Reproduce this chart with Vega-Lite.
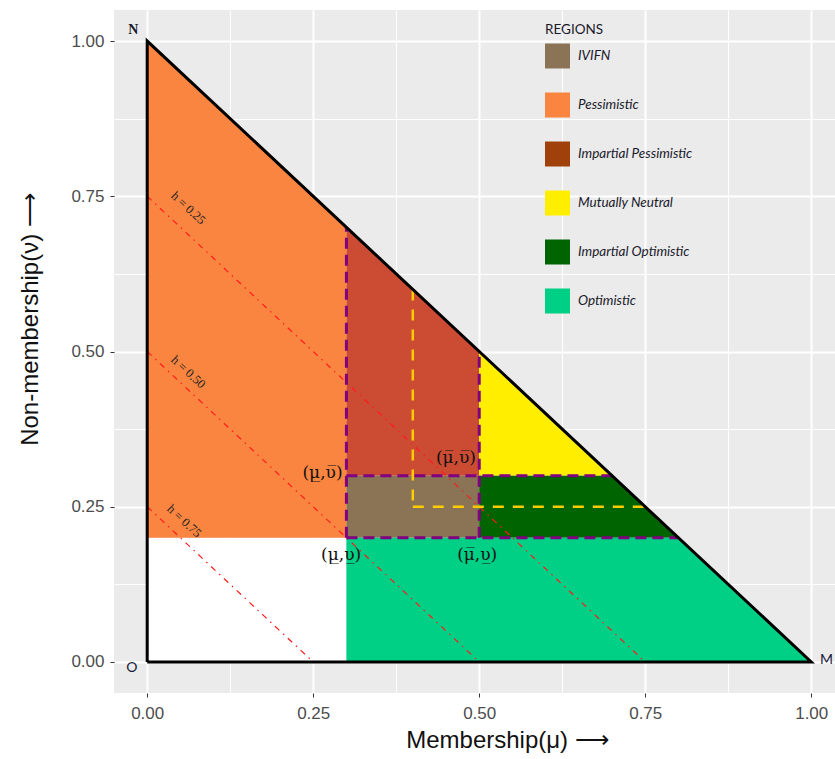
{
  "$schema": "https://vega.github.io/schema/vega-lite/v6.json",
  "autosize": "none",
  "padding": {"left": 114, "top": 10, "right": 0, "bottom": 66},
  "width": 721,
  "height": 683,
  "background": "white",
  "config": {
    "view": {"fill": "#EBEBEB", "stroke": null},
    "axis": {
      "domain": false,
      "gridColor": "white",
      "gridWidth": {"condition": {"test": "(datum.value*4) % 1 == 0", "value": 2}, "value": 1},
      "tickOpacity": {"condition": {"test": "(datum.value*4) % 1 == 0", "value": 1}, "value": 0},
      "tickColor": "#333333",
      "tickSize": 4,
      "labelFont": "Liberation Sans",
      "labelFontSize": 17,
      "labelColor": "#4D4D4D",
      "titleFont": "Liberation Sans",
      "titleFontSize": 24,
      "titleFontWeight": "normal",
      "titleColor": "#111111"
    }
  },
  "datasets": {
    "regions": [
      {"region": "Blank", "x": 0, "top": 0.2, "bot": 0},
      {"region": "Blank", "x": 0.3, "top": 0.2, "bot": 0},
      {"region": "Pessimistic", "x": 0, "top": 1, "bot": 0.2},
      {"region": "Pessimistic", "x": 0.3, "top": 0.7, "bot": 0.2},
      {"region": "Impartial Pessimistic", "x": 0.3, "top": 0.7, "bot": 0.3},
      {"region": "Impartial Pessimistic", "x": 0.5, "top": 0.5, "bot": 0.3},
      {"region": "IVIFN", "x": 0.3, "top": 0.3, "bot": 0.2},
      {"region": "IVIFN", "x": 0.5, "top": 0.3, "bot": 0.2},
      {"region": "Mutually Neutral", "x": 0.5, "top": 0.5, "bot": 0.3},
      {"region": "Mutually Neutral", "x": 0.7, "top": 0.3, "bot": 0.3},
      {"region": "Impartial Optimistic", "x": 0.5, "top": 0.3, "bot": 0.2},
      {"region": "Impartial Optimistic", "x": 0.7, "top": 0.3, "bot": 0.2},
      {"region": "Impartial Optimistic", "x": 0.8, "top": 0.2, "bot": 0.2},
      {"region": "Optimistic", "x": 0.3, "top": 0.2, "bot": 0},
      {"region": "Optimistic", "x": 0.8, "top": 0.2, "bot": 0},
      {"region": "Optimistic", "x": 1, "top": 0, "bot": 0}
    ],
    "red": [
      {"x": 0, "y": 0.75, "x2": 0.75, "y2": 0},
      {"x": 0, "y": 0.5, "x2": 0.5, "y2": 0},
      {"x": 0, "y": 0.25, "x2": 0.25, "y2": 0}
    ],
    "purple": [
      {"x": 0.3, "y": 0.2, "x2": 0.3, "y2": 0.7},
      {"x": 0.5, "y": 0.2, "x2": 0.5, "y2": 0.5},
      {"x": 0.3, "y": 0.3, "x2": 0.7, "y2": 0.3},
      {"x": 0.3, "y": 0.2, "x2": 0.8, "y2": 0.2}
    ],
    "yellow": [
      {"x": 0.4, "y": 0.6, "x2": 0.4, "y2": 0.25},
      {"x": 0.4, "y": 0.25, "x2": 0.75, "y2": 0.25}
    ],
    "outline": [
      {"o": 1, "x": 0, "y": 0},
      {"o": 2, "x": 0, "y": 1},
      {"o": 3, "x": 1, "y": 0},
      {"o": 4, "x": 0, "y": 0}
    ],
    "hlabels": [
      {"label": "h = 0.25", "x": 0.062, "y": 0.731},
      {"label": "h = 0.50", "x": 0.062, "y": 0.467},
      {"label": "h = 0.75", "x": 0.056, "y": 0.227}
    ],
    "mulabels": [
      {"label": "(μ\u0332,υ\u0305)", "x": 0.264, "y": 0.304},
      {"label": "(μ\u0305,υ\u0305)", "x": 0.465, "y": 0.328},
      {"label": "(μ\u0332,υ\u0332)", "x": 0.292, "y": 0.172},
      {"label": "(μ\u0305,υ\u0332)", "x": 0.497, "y": 0.172}
    ],
    "legend": [
      {"region": "IVIFN", "x": 0, "y": 0},
      {"region": "Pessimistic", "x": 0, "y": 0},
      {"region": "Impartial Pessimistic", "x": 0, "y": 0},
      {"region": "Mutually Neutral", "x": 0, "y": 0},
      {"region": "Impartial Optimistic", "x": 0, "y": 0},
      {"region": "Optimistic", "x": 0, "y": 0}
    ]
  },
  "encoding": {
    "x": {
      "type": "quantitative",
      "scale": {"domain": [-0.05, 1.0358], "nice": false, "zero": false},
      "axis": {
        "values": [0, 0.125, 0.25, 0.375, 0.5, 0.625, 0.75, 0.875, 1],
        "format": ".2f",
        "labelExpr": "(datum.value*4) % 1 == 0 ? datum.label : ''",
        "labelPadding": 8,
        "title": "Membership(μ) ⟶",
        "titleX": 393,
        "titleY": 47,
        "titleBaseline": "middle"
      }
    },
    "y": {
      "type": "quantitative",
      "scale": {"domain": [-0.05, 1.05], "nice": false, "zero": false},
      "axis": {
        "values": [0, 0.125, 0.25, 0.375, 0.5, 0.625, 0.75, 0.875, 1],
        "format": ".2f",
        "labelExpr": "(datum.value*4) % 1 == 0 ? datum.label : ''",
        "labelPadding": 6,
        "title": "Non-membership(ν) ⟶",
        "titleX": -84,
        "titleY": 309,
        "titleBaseline": "middle",
        "titleAlign": "center"
      }
    }
  },
  "layer": [
    {
      "data": {"name": "regions"},
      "mark": {"type": "area", "opacity": 1},
      "encoding": {
        "x": {"field": "x", "type": "quantitative"},
        "y": {"field": "top", "type": "quantitative", "stack": null},
        "y2": {"field": "bot"},
        "fill": {
          "field": "region",
          "type": "nominal",
          "legend": null,
          "scale": {
            "domain": ["Blank", "IVIFN", "Pessimistic", "Impartial Pessimistic", "Mutually Neutral", "Impartial Optimistic", "Optimistic"],
            "range": ["#FFFFFF", "#8B7355", "#FA8540", "#CC4B33", "#FFEE00", "#006400", "#00CF86"]
          }
        }
      }
    },
    {
      "data": {"name": "red"},
      "mark": {"type": "rule", "color": "#FF1A1A", "strokeWidth": 1.2, "strokeDash": [6, 5, 1.5, 5]},
      "encoding": {
        "x": {"field": "x", "type": "quantitative"},
        "y": {"field": "y", "type": "quantitative"},
        "x2": {"field": "x2"},
        "y2": {"field": "y2"}
      }
    },
    {
      "data": {"name": "yellow"},
      "mark": {"type": "rule", "color": "#FFCC00", "strokeWidth": 2.5, "strokeDash": [11, 9]},
      "encoding": {
        "x": {"field": "x", "type": "quantitative"},
        "y": {"field": "y", "type": "quantitative"},
        "x2": {"field": "x2"},
        "y2": {"field": "y2"}
      }
    },
    {
      "data": {"name": "purple"},
      "mark": {"type": "rule", "color": "#800080", "strokeWidth": 3, "strokeDash": [11, 6]},
      "encoding": {
        "x": {"field": "x", "type": "quantitative"},
        "y": {"field": "y", "type": "quantitative"},
        "x2": {"field": "x2"},
        "y2": {"field": "y2"}
      }
    },
    {
      "data": {"name": "outline"},
      "mark": {"type": "line", "color": "black", "strokeWidth": 3, "strokeJoin": "miter"},
      "encoding": {
        "x": {"field": "x", "type": "quantitative"},
        "y": {"field": "y", "type": "quantitative"},
        "order": {"field": "o", "type": "quantitative"}
      }
    },
    {
      "data": {"name": "hlabels"},
      "mark": {"type": "text", "font": "Liberation Serif", "fontSize": 12.5, "angle": 43, "align": "center", "baseline": "middle", "color": "#222222"},
      "encoding": {
        "x": {"field": "x", "type": "quantitative"},
        "y": {"field": "y", "type": "quantitative"},
        "text": {"field": "label"}
      }
    },
    {
      "data": {"name": "mulabels"},
      "mark": {"type": "text", "font": "DejaVu Serif", "fontSize": 17, "align": "center", "baseline": "middle", "color": "#111111"},
      "encoding": {
        "x": {"field": "x", "type": "quantitative"},
        "y": {"field": "y", "type": "quantitative"},
        "text": {"field": "label"}
      }
    },
    {
      "data": {"values": [
        {"label": "N", "x": -0.021, "y": 1.018}
      ]},
      "mark": {"type": "text", "font": "Liberation Serif", "fontSize": 14, "fontWeight": "bold", "align": "center", "baseline": "middle", "color": "#1a1a2a"},
      "encoding": {
        "x": {"field": "x", "type": "quantitative"},
        "y": {"field": "y", "type": "quantitative"},
        "text": {"field": "label"}
      }
    },
    {
      "data": {"values": [
        {"label": "O", "x": -0.023, "y": -0.01},
        {"label": "M", "x": 1.023, "y": 0.003}
      ]},
      "mark": {"type": "text", "font": "Lato", "fontSize": 14, "align": "center", "baseline": "middle", "color": "#1a1a3a"},
      "encoding": {
        "x": {"field": "x", "type": "quantitative"},
        "y": {"field": "y", "type": "quantitative"},
        "text": {"field": "label"}
      }
    },
    {
      "data": {"name": "legend"},
      "mark": {"type": "point", "filled": true, "shape": "square", "opacity": 0},
      "encoding": {
        "x": {"field": "x", "type": "quantitative"},
        "y": {"field": "y", "type": "quantitative"},
        "color": {
          "field": "region",
          "type": "nominal",
          "sort": null,
          "scale": {
            "domain": ["IVIFN", "Pessimistic", "Impartial Pessimistic", "Mutually Neutral", "Impartial Optimistic", "Optimistic"],
            "range": ["#8B7355", "#FA8540", "#A0400B", "#FFEE00", "#006400", "#00CF86"]
          },
          "legend": {
            "title": "REGIONS",
            "orient": "none",
            "legendX": 431,
            "legendY": 13,
            "titleFont": "Lato",
            "titleFontSize": 13.5,
            "titleFontWeight": "normal",
            "titleColor": "#1a1a2a",
            "titlePadding": 7,
            "labelFont": "Lato",
            "labelFontSize": 13.5,
            "labelFontStyle": "italic",
            "labelColor": "#1a1a2a",
            "labelOffset": 8,
            "symbolType": "square",
            "symbolSize": 625,
            "symbolOpacity": 1,
            "symbolStrokeWidth": 0,
            "rowPadding": 24,
            "padding": 0
          }
        }
      }
    }
  ]
}
